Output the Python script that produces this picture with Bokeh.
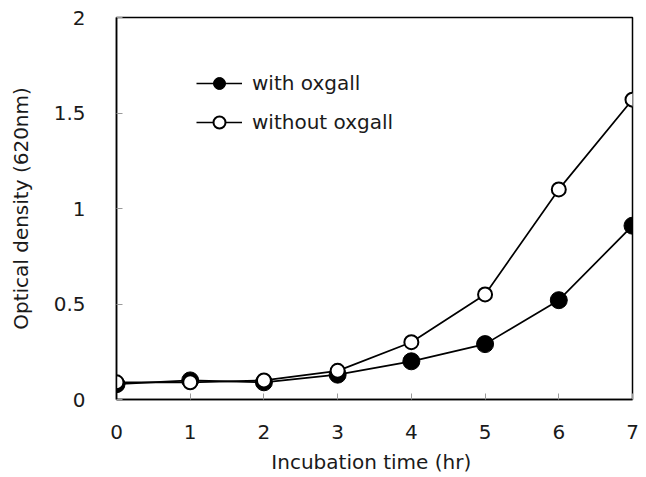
from bokeh.plotting import figure
from bokeh.models import Legend, LegendItem, FixedTicker, Range1d
from bokeh.embed import file_html
from bokeh.resources import INLINE

hours = [0, 1, 2, 3, 4, 5, 6, 7]
with_oxgall = [0.08, 0.10, 0.09, 0.13, 0.20, 0.29, 0.52, 0.91]
without_oxgall = [0.09, 0.09, 0.10, 0.15, 0.30, 0.55, 1.10, 1.57]
x_ticks = [0, 1, 2, 3, 4, 5, 6, 7]
y_ticks = [0, 0.5, 1, 1.5, 2]
y_tick_labels = {0: "0", 0.5: "0.5", 1: "1", 1.5: "1.5", 2: "2"}

FONT = "DejaVu Sans"

p = figure(width=646, height=477, output_backend="svg", toolbar_location=None,
           x_range=Range1d(0, 7), y_range=Range1d(0, 2),
           min_border_left=116, min_border_right=14, min_border_top=17, min_border_bottom=78)
p.grid.visible = False
p.outline_line_color = "black"
p.outline_line_width = 1.5
p.background_fill_color = "white"
p.border_fill_color = "white"

for ax in (p.xaxis[0], p.yaxis[0]):
    ax.axis_line_color = "black"
    ax.axis_line_width = 1.5
    ax.major_tick_in = 6
    ax.major_tick_out = 0
    ax.major_tick_line_color = "#9a9a9a"
    ax.minor_tick_line_color = None
    ax.major_label_text_font = FONT
    ax.major_label_text_font_size = "20px"
    ax.major_label_text_color = "#1a1a1a"
    ax.axis_label_text_font = FONT
    ax.axis_label_text_font_size = "20px"
    ax.axis_label_text_font_style = "normal"
    ax.axis_label_text_color = "#1a1a1a"

p.xaxis.ticker = FixedTicker(ticks=x_ticks)
p.yaxis.ticker = FixedTicker(ticks=y_ticks)
p.yaxis.major_label_overrides = y_tick_labels
p.xaxis.major_label_standoff = 25
p.yaxis.major_label_standoff = 31
p.xaxis.axis_label = "Incubation time  (hr)"
p.yaxis.axis_label = "Optical density (620nm)"
p.xaxis.axis_label_standoff = 8
p.yaxis.axis_label_standoff = 18

l1 = p.line(hours, with_oxgall, line_color="black", line_width=1.7)
c1 = p.scatter(hours, with_oxgall, size=17, marker="circle", fill_color="black", line_color="black")
l2 = p.line(hours, without_oxgall, line_color="black", line_width=1.7)
c2 = p.scatter(hours, without_oxgall, size=14, marker="circle", fill_color="white", line_color="black", line_width=2)

legend = Legend(items=[LegendItem(label="with oxgall", renderers=[l1, c1]),
                       LegendItem(label="without oxgall", renderers=[l2, c2])],
                location=(80, 262), glyph_width=46, glyph_height=30, spacing=9,
                padding=0, margin=0, label_standoff=10,
                label_text_font=FONT, label_text_font_size="20px",
                label_text_color="#1a1a1a",
                border_line_color=None, background_fill_alpha=0)
p.add_layout(legend)

open("out.html", "w").write(file_html(p, INLINE))
